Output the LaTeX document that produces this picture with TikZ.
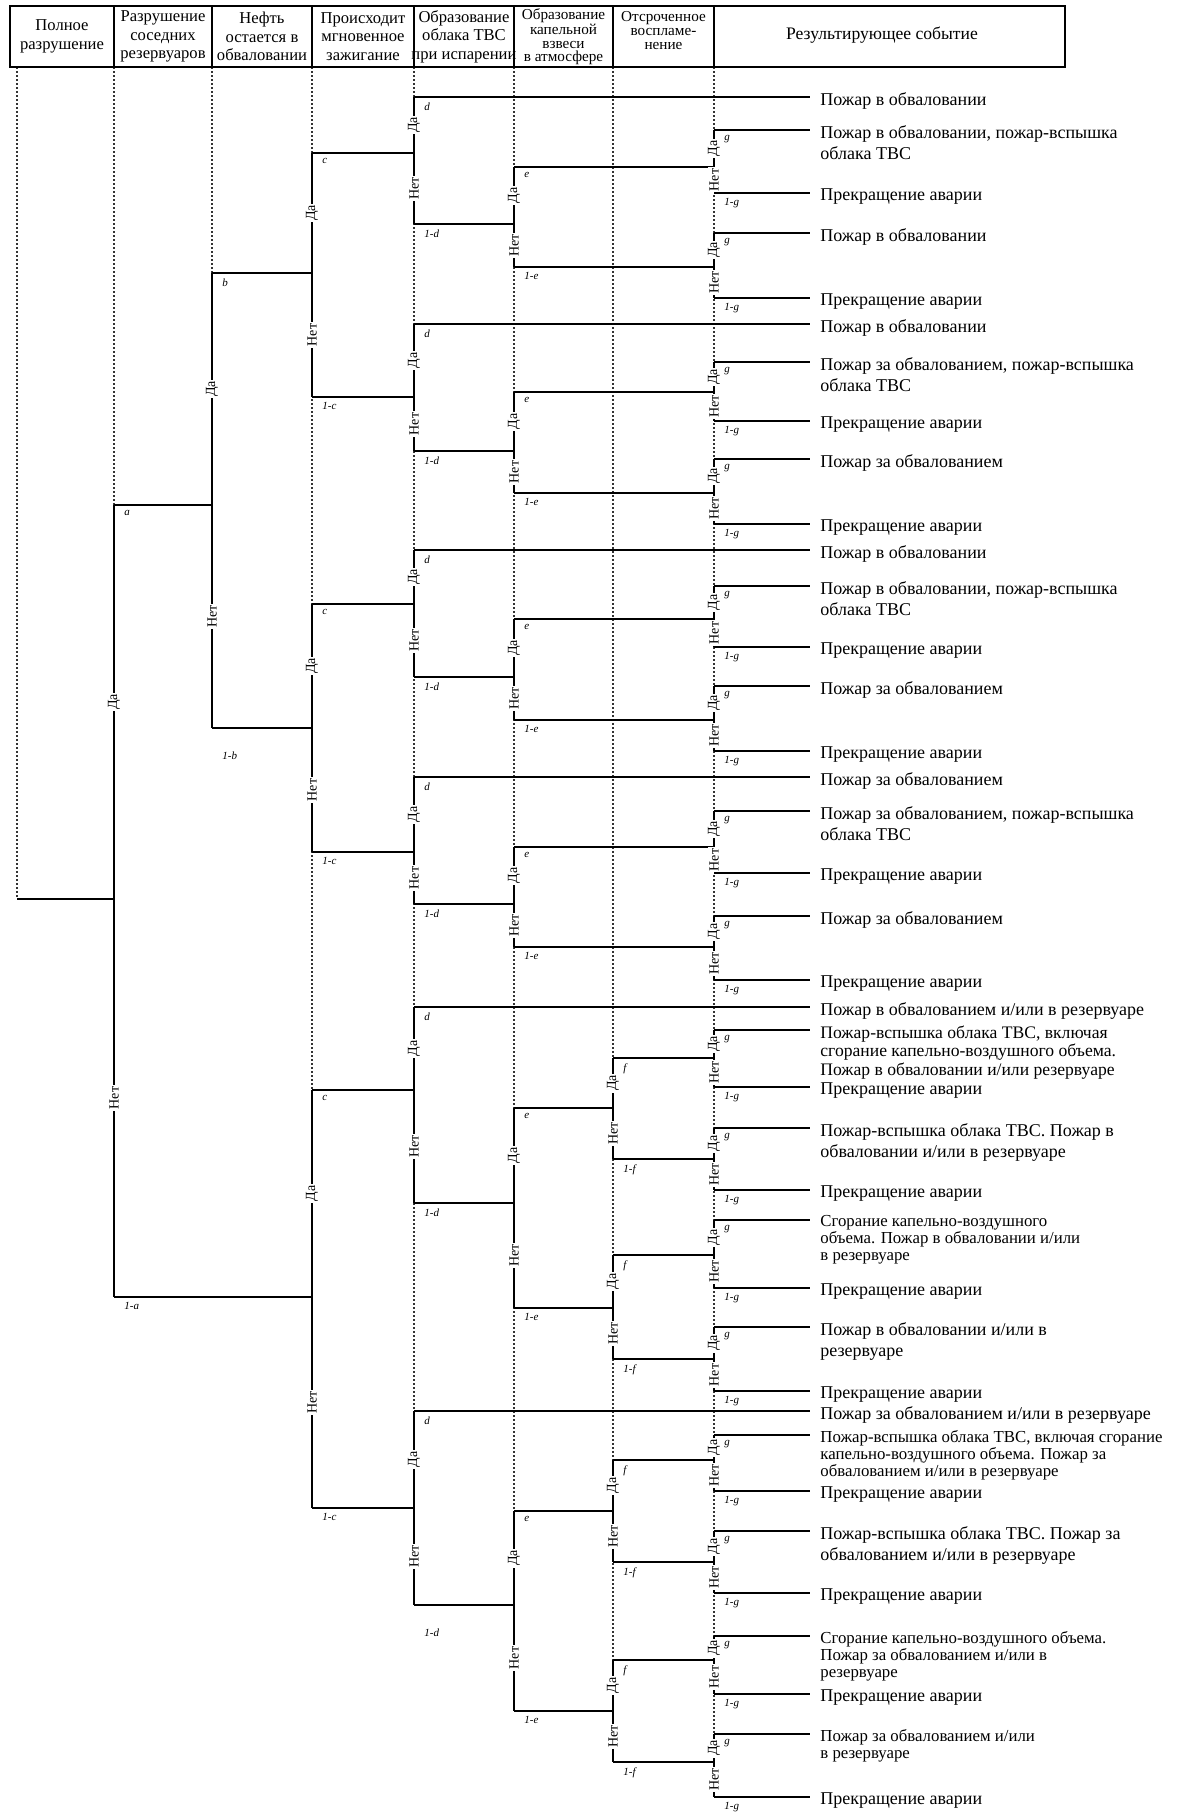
\documentclass[tikz,border=0pt]{standalone}
\usepackage{fontspec}
\setmainfont{Liberation Serif}
\tikzset{
 gridln/.style={line width=0.6pt, dash pattern=on 1pt off 1pt, black!80},
 tr/.style={line width=0.8pt},
 hdrline/.style={line width=0.8pt},
 yn/.style={font=\fontsize{7}{7}\selectfont, rotate=90, fill=white, inner sep=0.8pt},
 pl/.style={font=\fontsize{5.5}{6}\selectfont\itshape, anchor=north west, inner sep=0pt},
 res/.style={font=\fontsize{9}{10.4}\selectfont, anchor=north west, align=left, inner sep=0pt},
 resm/.style={font=\fontsize{8.8}{9.3}\selectfont, anchor=north west, align=left, inner sep=0pt},
 rest/.style={font=\fontsize{8.4}{8.6}\selectfont, anchor=north west, align=left, inner sep=0pt},
 hd/.style={font=\fontsize{8.3}{9.2}\selectfont, align=center, inner sep=0pt},
}
% vertical decision node: x, ytop, yin, ybot, letter, extra offset of bottom label
\newcommand\ND[6]{%
 \draw[tr] (#1,#2) -- (#1,#4);
 \node[yn] at (#1,{(#2+#3)/2}) {Да};
 \node[yn] at (#1,{(#3+#4)/2}) {Нет};
 \node[pl] at (#1+10,#2+5) {#5};
 \node[pl] at (#1+10,#4+5+#6) {1-#5};}
\newcommand\HL[3]{\draw[tr] (#1,#3) -- (#2,#3);}
\newcommand\LF[4][res]{\draw[tr] (#2,#3) -- (810,#3); \node[#1] at (820,#3-5) {#4};}
% group with d, e, g: yc, L1..L5, y1d, ye, y1e
\newcommand\GA[9]{%
 \HL{312}{414}{#1}
 \ND{414}{#2}{#1}{#7}{d}{0}
 \HL{414}{514}{#7}
 \ND{514}{#8}{#7}{#9}{e}{0}
 \HL{514}{714}{#8}\HL{514}{714}{#9}
 \ND{714}{#3}{#8}{#4}{g}{0}
 \ND{714}{#5}{#9}{#6}{g}{0}}
\begin{document}
\begin{tikzpicture}[x=0.5pt,y=-0.5pt]
\useasboundingbox[fill=white] (0,0) rectangle (1180,1812);
% column grid lines
\foreach \x/\yb in {17/899,114/1297,212/728,312/1508,414/1605,514/1711,613/1762,714/1797}
  \draw[gridln] (\x,67) -- (\x,\yb);
% header
\draw[hdrline] (10,6) rectangle (1065,67);
\foreach \x in {114,212,312,414,514,613,714} \draw[hdrline] (\x,6) -- (\x,67);
\node[hd] (h1) at (62,36.5) {Полное\\разрушение};
\node[hd] (h2) at (163,36.5) {Разрушение\\соседних\\резервуаров};
\node[hd] (h3) at (262,36.5) {Нефть\\остается в\\обваловании};
\node[hd] (h4) at (363,36.5) {Происходит\\мгновенное\\зажигание};
\node[hd] (h5) at (464,36.5) {Образование\\облака ТВС\\при испарении};
\node[hd,font=\fontsize{7.6}{6.6}\selectfont] (h6) at (563.5,36.5) {Образование\\капельной\\взвеси\\в атмосфере};
\node[hd,font=\fontsize{7.6}{7}\selectfont] (h7) at (663.5,31) {Отсроченное\\воспламе-\\нение};
\node[hd,font=\fontsize{8.8}{9}\selectfont] (h8) at (882,35) {Результирующее событие};
% upper levels
\HL{17}{114}{899}
\ND{114}{505}{899}{1297}{a}{0}
\HL{114}{212}{505}
\ND{212}{273}{505}{728}{b}{18}
\HL{212}{312}{273}
\ND{312}{153}{273}{397}{c}{0}
\HL{212}{312}{728}
\ND{312}{604}{728}{852}{c}{0}
\HL{114}{312}{1297}
\ND{312}{1090}{1297}{1508}{c}{0}
% groups 1-4
\GA{153}{97}{130}{193}{233}{298}{224}{167}{267}
\GA{397}{324}{362}{421}{459}{524}{451}{392}{493}
\GA{604}{550}{586}{647}{686}{751}{677}{619}{720}
\GA{852}{777}{811}{873}{916}{980}{904}{847}{947}
% group 5
\HL{312}{414}{1090}
\ND{414}{1007}{1090}{1203}{d}{0}
\HL{414}{514}{1203}
\ND{514}{1108}{1203}{1308}{e}{0}
\HL{514}{613}{1108}\HL{514}{613}{1308}
\ND{613}{1058}{1108}{1159}{f}{0}
\ND{613}{1255}{1308}{1359}{f}{0}
\HL{613}{714}{1058}\HL{613}{714}{1159}\HL{613}{714}{1255}\HL{613}{714}{1359}
\ND{714}{1030}{1058}{1087}{g}{0}
\ND{714}{1128}{1159}{1190}{g}{0}
\ND{714}{1220}{1255}{1288}{g}{0}
\ND{714}{1327}{1359}{1391}{g}{0}
% group 6
\HL{312}{414}{1508}
\ND{414}{1411}{1508}{1605}{d}{18}
\HL{414}{514}{1605}
\ND{514}{1511}{1605}{1711}{e}{0}
\HL{514}{613}{1511}\HL{514}{613}{1711}
\ND{613}{1460}{1511}{1562}{f}{0}
\ND{613}{1660}{1711}{1762}{f}{0}
\HL{613}{714}{1460}\HL{613}{714}{1562}\HL{613}{714}{1660}\HL{613}{714}{1762}
\ND{714}{1435}{1460}{1491}{g}{0}
\ND{714}{1531}{1562}{1593}{g}{0}
\ND{714}{1636}{1660}{1694}{g}{0}
\ND{714}{1734}{1762}{1797}{g}{0}
% outcomes
\LF{414}{97}{Пожар в обваловании}
\LF{714}{130}{Пожар в обваловании, пожар-вспышка\\облака ТВС}
\LF{714}{193}{Прекращение аварии}
\LF{714}{233}{Пожар в обваловании}
\LF{714}{298}{Прекращение аварии}
\LF{414}{324}{Пожар в обваловании}
\LF{714}{362}{Пожар за обвалованием, пожар-вспышка\\облака ТВС}
\LF{714}{421}{Прекращение аварии}
\LF{714}{459}{Пожар за обвалованием}
\LF{714}{524}{Прекращение аварии}
\LF{414}{550}{Пожар в обваловании}
\LF{714}{586}{Пожар в обваловании, пожар-вспышка\\облака ТВС}
\LF{714}{647}{Прекращение аварии}
\LF{714}{686}{Пожар за обвалованием}
\LF{714}{751}{Прекращение аварии}
\LF{414}{777}{Пожар за обвалованием}
\LF{714}{811}{Пожар за обвалованием, пожар-вспышка\\облака ТВС}
\LF{714}{873}{Прекращение аварии}
\LF{714}{916}{Пожар за обвалованием}
\LF{714}{980}{Прекращение аварии}
\LF{414}{1007}{Пожар в обвалованием и/или в резервуаре}
\LF[resm]{714}{1030}{Пожар-вспышка облака ТВС, включая\\сгорание капельно-воздушного объема.\\Пожар в обваловании и/или резервуаре}
\LF{714}{1087}{Прекращение аварии}
\LF{714}{1128}{Пожар-вспышка облака ТВС. Пожар в\\обваловании и/или в резервуаре}
\LF{714}{1190}{Прекращение аварии}
\LF[rest]{714}{1220}{Сгорание капельно-воздушного\\объема. Пожар в обваловании и/или\\в резервуаре}
\LF{714}{1288}{Прекращение аварии}
\LF{714}{1327}{Пожар в обваловании и/или в\\резервуаре}
\LF{714}{1391}{Прекращение аварии}
\LF{414}{1411}{Пожар за обвалованием и/или в резервуаре}
\LF[rest]{714}{1435}{Пожар-вспышка облака ТВС, включая сгорание\\капельно-воздушного объема. Пожар за\\обвалованием и/или в резервуаре}
\LF{714}{1491}{Прекращение аварии}
\LF{714}{1531}{Пожар-вспышка облака ТВС. Пожар за\\обвалованием и/или в резервуаре}
\LF{714}{1593}{Прекращение аварии}
\LF[rest]{714}{1636}{Сгорание капельно-воздушного объема.\\Пожар за обвалованием и/или в\\резервуаре}
\LF{714}{1694}{Прекращение аварии}
\LF[rest]{714}{1734}{Пожар за обвалованием и/или\\в резервуаре}
\LF{714}{1797}{Прекращение аварии}
\end{tikzpicture}
\end{document}
